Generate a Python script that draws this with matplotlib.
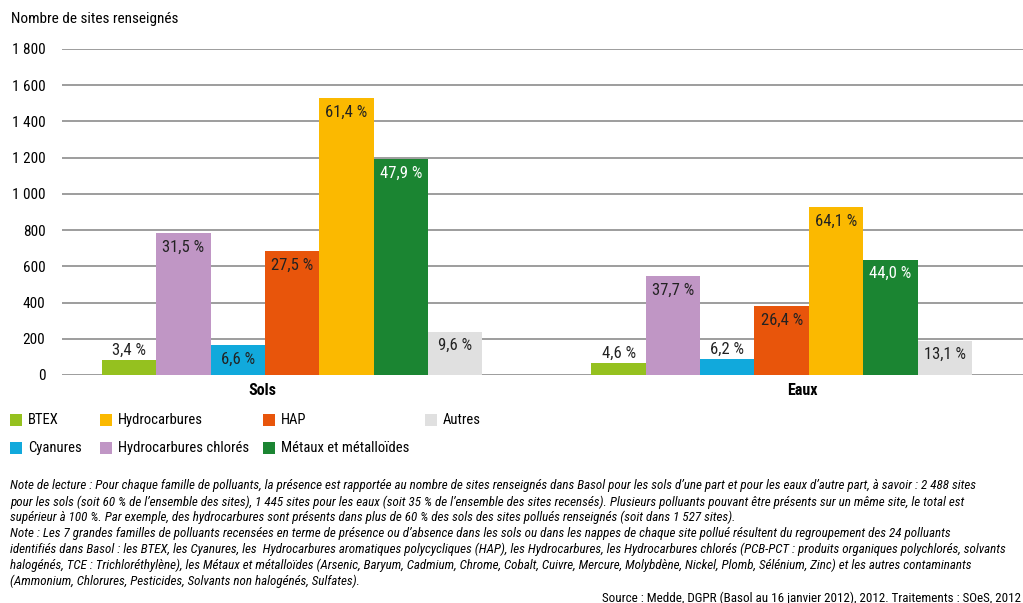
import matplotlib
matplotlib.use('Agg')
import matplotlib.pyplot as plt
from matplotlib import font_manager
from matplotlib.patches import Rectangle
import numpy as np

# Data: nombre de sites renseignés par famille de polluants
milieux = ['Sols', 'Eaux']
familles = ['BTEX', 'Hydrocarbures chlorés', 'Cyanures', 'HAP', 'Hydrocarbures',
            'Métaux et métalloïdes', 'Autres']
sols = [85, 784, 164, 684, 1527, 1192, 239]
eaux = [66, 545, 90, 381, 926, 636, 189]
pct_sols = [3.4, 31.5, 6.6, 27.5, 61.4, 47.9, 9.6]
pct_eaux = [4.6, 37.7, 6.2, 26.4, 64.1, 44.0, 13.1]
couleurs = ['#95c11f', '#c096c5', '#11a9dc', '#e8550b', '#fbb900', '#1b8532', '#e0e0e0']
couleurs_txt = ['#222222', '#222222', '#222222', '#222222', '#222222', 'white', '#222222']
yticks = [0, 200, 400, 600, 800, 1000, 1200, 1400, 1600, 1800]
# legend layout: two rows, four columns
legende = [['BTEX', 'Hydrocarbures', 'HAP', 'Autres'],
           ['Cyanures', 'Hydrocarbures chlorés', 'Métaux et métalloïdes', None]]

notes = [
    "Note de lecture : Pour chaque famille de polluants, la présence est rapportée au nombre de sites renseignés dans Basol pour les sols d\u2019une part et pour les eaux d\u2019autre part, à savoir : 2 488 sites",
    "pour les sols (soit 60 % de l\u2019ensemble des sites), 1 445 sites pour les eaux (soit 35 % de l\u2019ensemble des sites recensés). Plusieurs polluants pouvant être présents sur un même site, le total est",
    "supérieur à 100 %. Par exemple, des hydrocarbures sont présents dans plus de 60 % des sols des sites pollués renseignés (soit dans 1 527 sites).",
    "Note : Les 7 grandes familles de polluants recensées en terme de présence ou d\u2019absence dans les sols ou dans les nappes de chaque site pollué résultent du regroupement des 24 polluants",
    "identifiés dans Basol : les BTEX, les Cyanures, les  Hydrocarbures aromatiques polycycliques (HAP), les Hydrocarbures, les Hydrocarbures chlorés (PCB-PCT : produits organiques polychlorés, solvants",
    "halogénés, TCE : Trichloréthylène), les Métaux et métalloïdes (Arsenic, Baryum, Cadmium, Chrome, Cobalt, Cuivre, Mercure, Molybdène, Nickel, Plomb, Sélénium, Zinc) et les autres contaminants",
    "(Ammonium, Chlorures, Pesticides, Solvants non halogénés, Sulfates).",
]
source = "Source : Medde, DGPR (Basol au 16 janvier 2012), 2012. Traitements : SOeS, 2012"

# a condensed sans is closest to the original typeface
names = {f.name for f in font_manager.fontManager.ttflist}
choix = None
for cand in ['Roboto Condensed', 'Liberation Sans Narrow']:
    if cand in names:
        choix = cand
        break
if choix:
    plt.rcParams['font.family'] = [choix, 'DejaVu Sans']
else:
    plt.rcParams['font.family'] = ['DejaVu Sans']
    plt.rcParams['font.stretch'] = 'condensed'

W, H = 1023, 603
fig = plt.figure(figsize=(W / 100, H / 100), dpi=100)

def px(x, y):
    return x / W, 1 - y / H

ax = fig.add_axes([62 / W, (H - 375) / H, (W - 62) / W, (375 - 49) / H])

largeur = 0.111
pos = np.arange(len(milieux))
valeurs = np.array([sols, eaux])
pcts = np.array([pct_sols, pct_eaux])
for i, fam in enumerate(familles):
    x = pos + (i - 3) * largeur
    ax.bar(x, valeurs[:, i], largeur, color=couleurs[i], zorder=3, label=fam)
    for xi, v, p in zip(x, valeurs[:, i], pcts[:, i]):
        lab = f"{p:.1f} %".replace('.', ',')
        if v > 140:
            ax.annotate(lab, (xi, v), xytext=(0, -10), textcoords='offset points',
                        ha='center', va='center', fontsize=12, color=couleurs_txt[i], zorder=4)
        else:
            ax.annotate(lab, (xi, v), xytext=(0, 7), textcoords='offset points',
                        ha='center', va='center', fontsize=12, color='#222222', zorder=4)

ax.set_xlim(-0.47, 1.493)
ax.set_ylim(0, 1800)
ax.set_yticks(yticks)
ax.set_yticklabels([f"{v:,}".replace(',', ' ') for v in yticks], fontsize=11)
ax.yaxis.grid(True, color='#959595', linewidth=1.3, zorder=0)
ax.set_axisbelow(True)
ax.tick_params(axis='y', length=0, pad=12)
ax.tick_params(axis='x', length=0, pad=6)
ax.set_xticks([-0.061, 1.043])
ax.set_xticklabels(milieux, fontsize=11.5, fontweight='bold')
for s in ax.spines.values():
    s.set_visible(False)

fig.text(*px(11, 19), 'Nombre de sites renseignés', fontsize=11, va='center', ha='left')

# legend drawn by hand to keep the fixed column grid of the original
col_x = [10, 100, 263, 425]
row_y = [420, 448]
for r, ligne in enumerate(legende):
    for c, fam in enumerate(ligne):
        if fam is None:
            continue
        x0, y0 = px(col_x[c], row_y[r] + 6)
        fig.add_artist(Rectangle((x0, y0), 12 / W, 12 / H, transform=fig.transFigure,
                                 facecolor=couleurs[familles.index(fam)], edgecolor='none'))
        fig.text(*px(col_x[c] + 18, row_y[r]), fam, fontsize=10.5, va='center', ha='left')

for k, ligne in enumerate(notes):
    fig.text(*px(10, 486 + k * 15.8), ligne, fontsize=9.4, style='italic', va='center', ha='left')
fig.text(*px(1021, 598), source, fontsize=9.4, va='center', ha='right')

fig.savefig('out.png', dpi=100)
